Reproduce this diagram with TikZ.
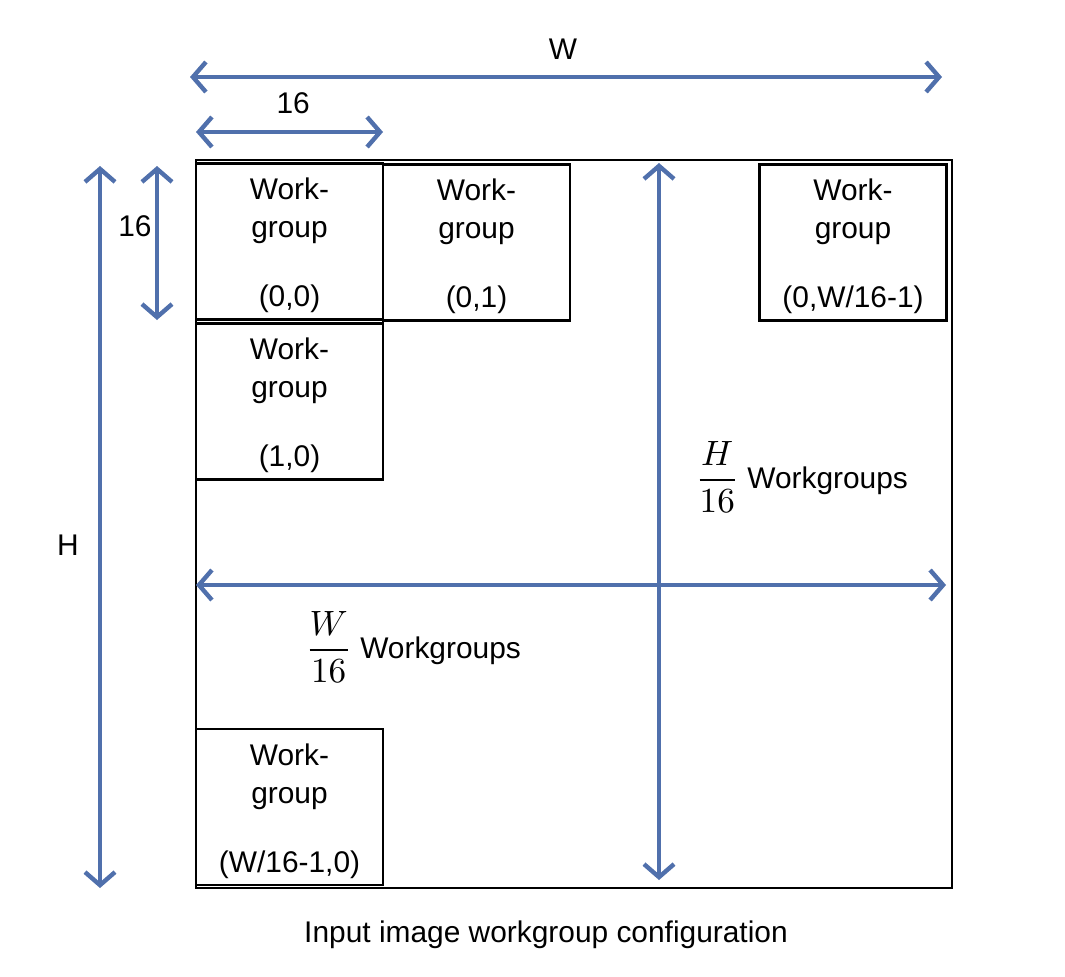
\documentclass[tikz,border=0pt]{standalone}
\usepackage{fontspec}
\setmainfont{Liberation Sans}
\usetikzlibrary{arrows.meta}
\definecolor{dimblue}{HTML}{5070AC}
\newcommand{\wgfrac}[1]{{\fontsize{9.6}{12}\selectfont$\displaystyle\frac{#1}{16}$}}
\tikzset{
  wgbox/.style={draw=black,line width=0.65pt,minimum width=1.87cm,minimum height=1.56cm,align=center,inner sep=0pt},
  dimarrow/.style={draw=dimblue,line width=1.25pt,{Straight Barb[length=0.13cm,width=0.3cm]}-{Straight Barb[length=0.13cm,width=0.3cm]}}
}
\begin{document}
\begin{tikzpicture}[x=0.01cm,y=-0.01cm,font=\fontsize{8.5}{10.8}\selectfont]
      \useasboundingbox (0,0) rectangle (1065,976);
      \node[draw=black,line width=0.65pt,minimum width=7.56cm,minimum height=7.28cm,inner sep=0pt] (img) at (574,524) {};
      \foreach \nm/\x/\y/\lab in {wgA/289.5/241.5/{(0,0)},wgB/476.5/242.5/{(0,1)},wgC/853/242.5/{(0,W/16-1)},wgD/289.5/401.5/{(1,0)},wgE/289.5/807/{(W/16-1,0)}}
      \node[wgbox] (\nm) at (\x,\y) {\rule{0pt}{0.3cm}Work-\\group\\[0.31cm]\lab};
      % dimension arrows
      \coordinate (wl) at (190,77); \coordinate (wr) at (942,77);
      \draw[dimarrow] (wl) -- (wr) node[pos=0.496,above=0.04cm,text=black] (lblW) {W};
      \coordinate (sl) at (196,132); \coordinate (sr) at (383,132);
      \draw[dimarrow] (sl) -- (sr) node[pos=0.52,above=0.04cm,text=black] (lblS) {16};
      \coordinate (ht) at (100,166); \coordinate (hb) at (100,888);
      \draw[dimarrow] (ht) -- (hb);
      \node (lblH) at (68,545) {H};
      \coordinate (vt) at (157,166); \coordinate (vb) at (157,320);
      \draw[dimarrow] (vt) -- (vb);
      \node (lblV) at (135,226) {16};
      \coordinate (ct) at (659,163); \coordinate (cb) at (659,880);
      \draw[dimarrow] (ct) -- (cb);
      \coordinate (ml) at (196,585); \coordinate (mr) at (946,585);
      \draw[dimarrow] (ml) -- (mr);
      \node[anchor=west] (rows) at (683,477) {\wgfrac{H} Workgroups};
      \node[anchor=west] (cols) at (293,647) {\wgfrac{W} Workgroups};
      \node (caption) at (546,935) {Input image workgroup configuration};
    \end{tikzpicture}
\end{document}
